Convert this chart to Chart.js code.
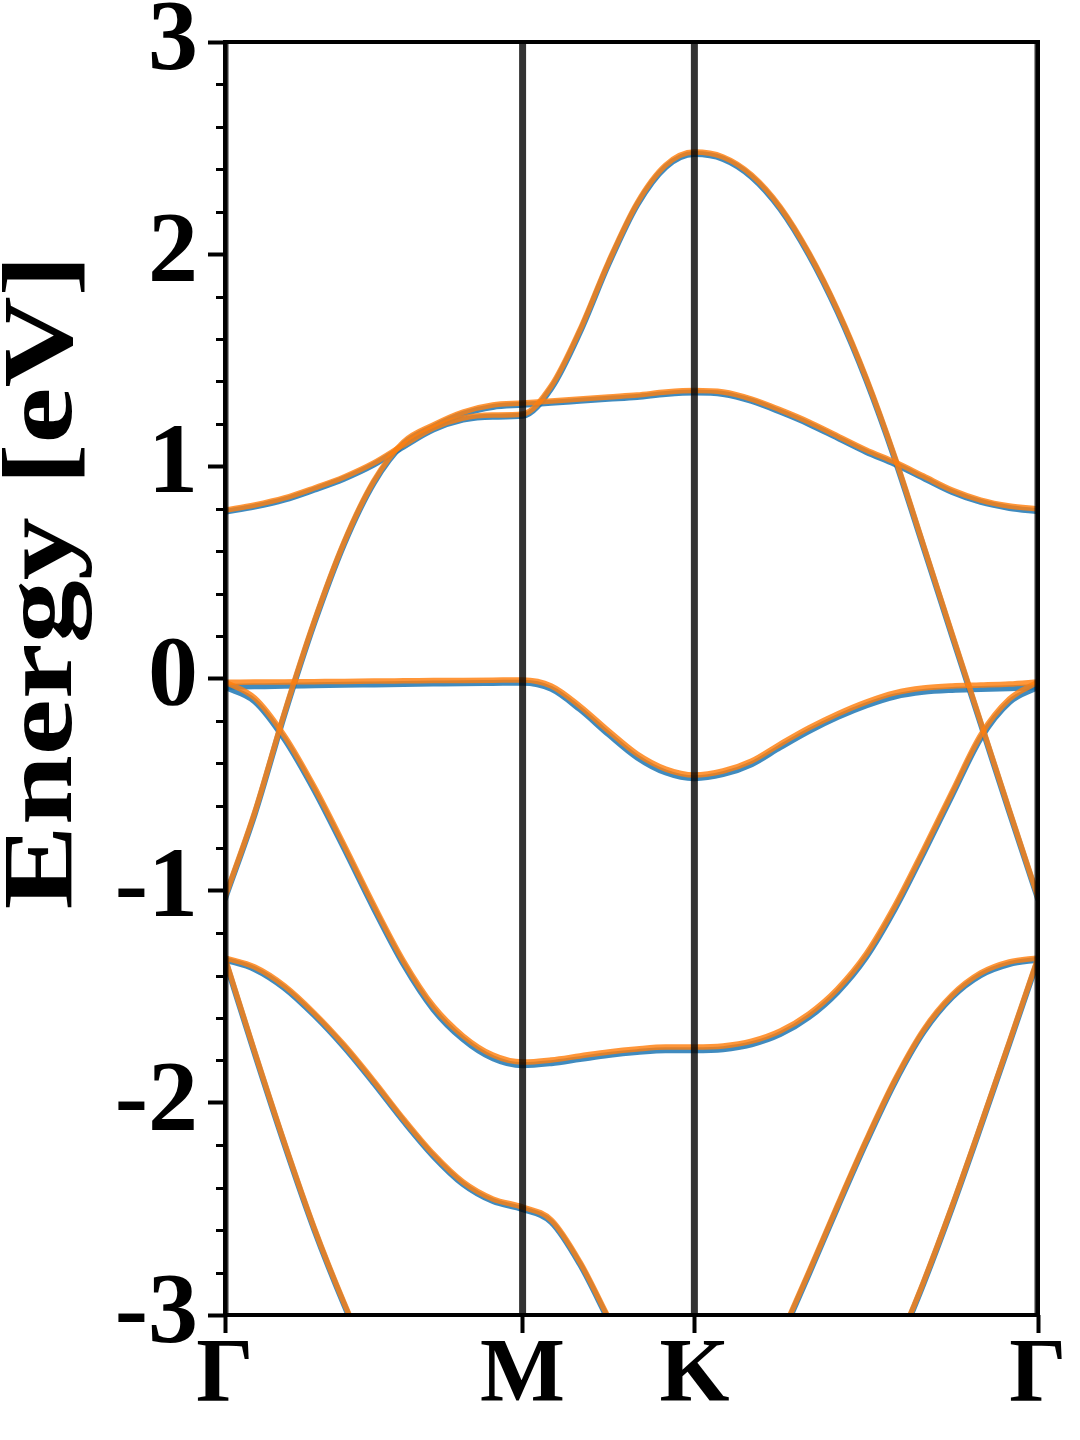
<!DOCTYPE html>
<html><head><meta charset="utf-8">
<script src="https://cdn.jsdelivr.net/npm/chart.js@4.4.1/dist/chart.umd.min.js"></script>
<style>html,body{margin:0;padding:0;background:#fff}canvas{display:block}</style>
</head><body>
<canvas id="c" width="1080" height="1440"></canvas>
<script>
// High-symmetry path
const kLabels = ['Γ', 'M', 'K', 'Γ'];
const kNodes = [0, 0.5774, 0.9107, 1.5774];
// k-point samples along Γ-M-K-Γ
const kGrid = [0, 0.0577, 0.1155, 0.1732, 0.2310, 0.2887, 0.3464, 0.4042, 0.4619, 0.5197, 0.5774,
  0.6330, 0.6885, 0.7441, 0.7996, 0.8552, 0.9107,
  0.9663, 1.0218, 1.0774, 1.1329, 1.1885, 1.2441, 1.2996, 1.3552, 1.4107, 1.4663, 1.5218, 1.5774];

const yTitle = 'Energy [eV]';
const yMin = -3, yMax = 3;
const yMajorTicks = [-3, -2, -1, 0, 1, 2, 3];
const yMinorTicks = [-2.8, -2.6, -2.4, -2.2, -1.8, -1.6, -1.4, -1.2, -0.8, -0.6, -0.4, -0.2,
  0.2, 0.4, 0.6, 0.8, 1.2, 1.4, 1.6, 1.8, 2.2, 2.4, 2.6, 2.8];

// Orange series (bands)
const orangeA = [0.794, 0.818, 0.851, 0.898, 0.950, 1.016, 1.101, 1.181, 1.228, 1.242, 1.247, 1.379, 1.643, 1.963, 2.241, 2.420, 2.481, 2.458, 2.373, 2.222, 2.006, 1.737, 1.416, 1.044, 0.629, 0.210, -0.205, -0.620, -1.030];
const orangeB = [-1.030, -0.630, -0.160, 0.270, 0.643, 0.931, 1.115, 1.195, 1.256, 1.289, 1.298, 1.308, 1.317, 1.327, 1.336, 1.350, 1.357, 1.350, 1.317, 1.266, 1.209, 1.143, 1.077, 1.020, 0.954, 0.888, 0.841, 0.813, 0.799];
const orangeC = [-0.018, -0.017, -0.016, -0.015, -0.014, -0.012, -0.011, -0.010, -0.009, -0.008, -0.007, -0.035, -0.130, -0.247, -0.356, -0.427, -0.455, -0.436, -0.389, -0.309, -0.233, -0.167, -0.111, -0.068, -0.045, -0.035, -0.031, -0.026, -0.016];
const orangeD = [-0.016, -0.092, -0.271, -0.511, -0.785, -1.068, -1.332, -1.544, -1.685, -1.775, -1.808, -1.798, -1.779, -1.760, -1.746, -1.737, -1.737, -1.732, -1.709, -1.661, -1.581, -1.463, -1.298, -1.072, -0.808, -0.535, -0.266, -0.097, -0.016];
const orangeE = [-1.317, -1.360, -1.449, -1.577, -1.727, -1.897, -2.076, -2.241, -2.373, -2.453, -2.491, -2.552, -2.750, -3.014, null, null, null, null, null, -3.104, -2.797, -2.482, -2.176, -1.893, -1.657, -1.492, -1.388, -1.336, -1.317];
const orangeF = [-1.317, -1.760, -2.189, -2.590, -2.943, -3.259, null, null, null, null, null, null, null, null, null, null, null, null, null, null, null, null, null, -3.174, -2.844, -2.486, -2.104, -1.713, -1.317];

// Blue series (bands)
const blueA = [0.786, 0.810, 0.843, 0.890, 0.942, 1.008, 1.093, 1.173, 1.220, 1.234, 1.238, 1.368, 1.632, 1.953, 2.232, 2.411, 2.472, 2.449, 2.364, 2.213, 1.997, 1.728, 1.407, 1.035, 0.620, 0.201, -0.214, -0.629, -1.038];
const blueB = [-1.038, -0.639, -0.169, 0.261, 0.634, 0.922, 1.106, 1.186, 1.247, 1.280, 1.290, 1.300, 1.309, 1.318, 1.327, 1.341, 1.348, 1.341, 1.308, 1.257, 1.200, 1.134, 1.068, 1.011, 0.945, 0.879, 0.832, 0.804, 0.788];
const blueC = [-0.040, -0.037, -0.034, -0.032, -0.030, -0.028, -0.026, -0.024, -0.022, -0.021, -0.020, -0.049, -0.145, -0.263, -0.372, -0.443, -0.470, -0.451, -0.404, -0.324, -0.248, -0.182, -0.127, -0.085, -0.063, -0.054, -0.050, -0.046, -0.040];
const blueD = [-0.040, -0.108, -0.286, -0.526, -0.800, -1.083, -1.347, -1.559, -1.700, -1.790, -1.823, -1.813, -1.794, -1.775, -1.761, -1.752, -1.752, -1.747, -1.724, -1.676, -1.596, -1.478, -1.313, -1.087, -0.823, -0.550, -0.281, -0.112, -0.040];
const blueE = [-1.325, -1.370, -1.459, -1.587, -1.737, -1.907, -2.086, -2.251, -2.383, -2.463, -2.501, -2.562, -2.760, -3.024, null, null, null, null, null, -3.114, -2.807, -2.492, -2.186, -1.903, -1.667, -1.502, -1.398, -1.346, -1.325];
const blueF = [-1.325, -1.768, -2.197, -2.598, -2.951, -3.267, null, null, null, null, null, null, null, null, null, null, null, null, null, null, null, null, null, -3.182, -2.852, -2.494, -2.112, -1.721, -1.325];

const orangeBands = [orangeA, orangeB, orangeC, orangeD, orangeE, orangeF];
const blueBands = [blueA, blueB, blueC, blueD, blueE, blueF];

const ORANGE = 'rgba(255,127,14,0.82)';
const BLUE = 'rgba(31,119,180,0.85)';
const FONT = "'Liberation Serif', 'Times New Roman', serif";

const toPts = arr => kGrid.map((k, i) => ({ x: k, y: arr[i] }));
const datasets = [];
blueBands.forEach(b => datasets.push({ data: toPts(b), borderColor: BLUE, borderWidth: 6, order: 2 }));
orangeBands.forEach(b => datasets.push({ data: toPts(b), borderColor: ORANGE, borderWidth: 5.5, order: 1 }));
kNodes.forEach(k => datasets.push({ data: [{ x: k, y: yMin }, { x: k, y: yMax }], borderColor: 'rgba(0,0,0,0.8)', borderWidth: 7, order: 0, cubicInterpolationMode: 'default', tension: 0, borderCapStyle: 'butt' }));

const isMajor = v => yMajorTicks.some(m => Math.abs(m - v) < 1e-6);

const framePlugin = {
  id: 'frame',
  afterDraw(chart) {
    const { ctx, chartArea: a, scales } = chart;
    const y = scales.y;
    ctx.save();
    ctx.strokeStyle = '#000';
    ctx.lineWidth = 3;
    yMinorTicks.forEach(v => {
      const p = Math.round(y.getPixelForValue(v)) + 0.5;
      ctx.beginPath(); ctx.moveTo(a.left - 9, p); ctx.lineTo(a.left, p); ctx.stroke();
    });
    ctx.lineWidth = 4;
    ctx.strokeRect(a.left, a.top, a.right - a.left, a.bottom - a.top);
    // y-axis title (stretched along its length like the original figure)
    ctx.font = 'bold 100px ' + FONT;
    ctx.fillStyle = '#000';
    ctx.textAlign = 'center';
    ctx.textBaseline = 'middle';
    const w = ctx.measureText(yTitle).width;
    ctx.translate(45, 582);
    ctx.rotate(-Math.PI / 2);
    ctx.scale(655 / w, 1);
    ctx.fillText(yTitle, 0, 0);
    ctx.restore();
  }
};

new Chart(document.getElementById('c'), {
  type: 'line',
  data: { datasets },
  plugins: [framePlugin],
  options: {
    responsive: false,
    animation: false,
    devicePixelRatio: 1,
    layout: { padding: { left: 0, top: 42, right: 42, bottom: 0 } },
    plugins: { legend: { display: false }, tooltip: { enabled: false } },
    elements: { point: { radius: 0 }, line: { cubicInterpolationMode: 'monotone', borderCapStyle: 'round', borderJoinStyle: 'round' } },
    datasets: { line: { clip: 0, spanGaps: false, fill: false } },
    scales: {
      x: {
        type: 'linear', min: kNodes[0], max: kNodes[kNodes.length - 1],
        afterBuildTicks: s => { s.ticks = kNodes.map(v => ({ value: v })); },
        afterFit: s => { s.height = 125; },
        ticks: { autoSkip: false, maxRotation: 0, padding: 0, color: '#000',
          font: { family: FONT, weight: 'bold', size: 90, lineHeight: 1 },
          callback: (v, i) => kLabels[i] },
        grid: { drawOnChartArea: false, drawTicks: true, tickLength: 18, tickWidth: 4, tickColor: '#000' },
        border: { display: false }
      },
      y: {
        type: 'linear', min: yMin, max: yMax,
        afterBuildTicks: s => { s.ticks = [...yMajorTicks, ...yMinorTicks].sort((p, q) => p - q).map(v => ({ value: v })); },
        afterFit: s => { s.width = 225; },
        ticks: { autoSkip: false, padding: 10, color: '#000',
          font: { family: FONT, weight: 'bold', size: 100, lineHeight: 0.6 },
          callback: v => isMajor(v) ? String(Math.round(v)) : '' },
        grid: { drawOnChartArea: false, drawTicks: true, tickLength: 17, tickWidth: 4,
          tickColor: c => (c.tick && isMajor(c.tick.value)) ? '#000' : 'rgba(0,0,0,0)' },
        border: { display: false },
        title: { display: false, text: yTitle }
      }
    }
  }
});
</script>
</body></html>
